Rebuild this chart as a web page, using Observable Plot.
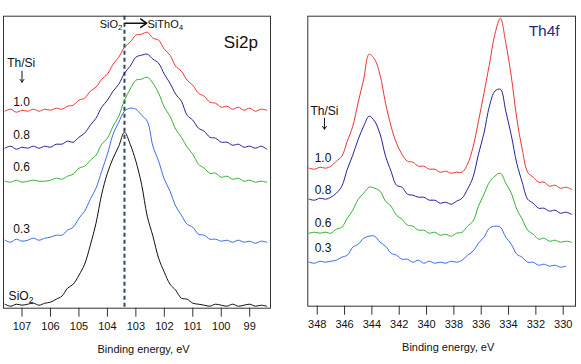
<!DOCTYPE html>
<html><head><meta charset="utf-8">
<script src="https://cdn.jsdelivr.net/npm/d3@7"></script>
<script src="https://cdn.jsdelivr.net/npm/@observablehq/plot@0.6"></script>
<style>
html,body{margin:0;padding:0;background:#fff;}
#wrap{position:relative;width:581px;height:364px;overflow:hidden;}
#left{position:absolute;left:0;top:0;}
#right{position:absolute;left:290px;top:0;}
svg{display:block;}
</style></head><body><div id="wrap"><div id="left"></div><div id="right"></div></div>
<script>
// ---------- Si2p panel data ----------
const siEnergy = [107.6,107.4,107.2,107.0,106.8,106.6,106.4,106.2,106.0,105.8,105.6,105.4,105.2,105.0,104.8,104.6,104.4,104.2,104.0,103.8,103.6,103.4,103.2,103.0,102.8,102.6,102.4,102.2,102.0,101.8,101.6,101.4,101.2,101.0,100.8,100.6,100.4,100.2,100.0,99.8,99.6,99.4,99.2,99.0,98.8,98.6,98.4];
const si10 = [197,199,196,198,197,199,197,199,198,200,199,202,203,208,210,217,221,229,234,244,251,261,266,273,274,276,270,268,259,253,242,237,228,223,215,212,206,205,201,202,199,201,198,200,197,199,198];
const si08 = [160,162,159,161,160,162,160,162,161,164,164,167,166,171,175,183,190,201,208,217,224,235,242,251,253,254,249,245,234,225,214,207,193,188,180,177,171,170,166,166,163,164,161,162,160,162,159];
const si06 = [127,126,128,126,127,128,127,127,128,130,129,132,134,140,142,148,153,164,170,182,192,208,219,228,229,231,225,215,201,192,179,171,161,154,144,140,135,135,131,132,129,130,127,128,126,127,126];
const si03 = [68,66,69,67,68,70,68,70,71,73,73,78,81,90,97,109,120,137,154,174,186,197,200,199,193,187,162,147,129,117,102,93,84,81,74,73,69,69,67,68,66,68,66,67,65,67,66];
const siSiO2 = [4,2,4,3,4,5,3,5,6,9,12,20,24,33,44,63,85,114,135,150,162,176,164,147,124,92,72,50,36,24,18,10,9,5,4,3,2,4,3,2,4,2,3,4,2,3,2];
const siTicks = [107,106,105,104,103,102,101,100,99];
const siRefLine = [103.4];

// ---------- Th4f panel data ----------
const thEnergy = [348.6,348.2,347.8,347.4,347.0,346.6,346.2,345.8,345.4,345.0,344.6,344.2,343.8,343.4,343.0,342.6,342.2,341.8,341.4,341.0,340.6,340.2,339.8,339.4,339.0,338.6,338.2,337.8,337.4,337.0,336.6,336.2,335.8,335.4,335.0,334.6,334.2,333.8,333.4,333.0,332.6,332.2,331.8,331.4,331.0,330.6,330.2,329.8,329.4];
const th10 = [138,137,139,138,140,145,150,165,180,204,227,252,247,231,203,180,163,152,145,144,140,140,137,137,134,135,133,134,134,142,159,185,213,242,272,288,263,230,188,157,134,129,124,124,120,121,118,119,117];
const th08 = [107,106,108,107,109,113,120,137,151,167,180,190,185,172,150,135,121,119,112,111,109,109,106,106,103,104,102,105,108,117,129,152,173,200,215,217,195,171,143,124,107,103,98,98,95,96,93,94,92];
const th06 = [73,74,73,74,73,77,79,88,96,107,113,119,118,115,105,100,91,87,81,80,76,76,73,74,71,72,70,73,74,80,85,100,112,124,130,133,123,113,97,87,76,72,67,68,65,66,64,65,64];
const th03 = [44,43,45,44,45,46,49,51,59,62,68,70,70,64,60,53,51,47,47,44,46,43,45,43,44,43,45,44,46,51,55,63,69,78,80,79,69,62,52,49,44,44,41,42,40,41,39,40];
const thTicks = [348,346,344,342,340,338,336,334,332,330];

const ratioLabels = ["1.0","0.8","0.6","0.3"];
const colors = {"1.0":"#f03434","0.8":"#22229e","0.6":"#33b233","0.3":"#3b6af0","SiO2":"#111111"};

function rows(energy, values, s){ return values.map((v,i)=>({e: energy[i], v, s})); }

const siData = [
  ...rows(siEnergy, si10, "1.0"), ...rows(siEnergy, si08, "0.8"),
  ...rows(siEnergy, si06, "0.6"), ...rows(siEnergy, si03, "0.3"),
  ...rows(siEnergy, siSiO2, "SiO2")
];
const thData = [
  ...rows(thEnergy, th10, "1.0"), ...rows(thEnergy, th08, "0.8"),
  ...rows(thEnergy, th06, "0.6"), ...rows(thEnergy, th03, "0.3")
];

// annotation placement (data coordinates)
const siAnn = [
  {t:"Th/Si", e:107.52, v:245, size:12, anchor:"start"},
  {t:ratioLabels[0], e:107.31, v:206, size:12, anchor:"start"},
  {t:ratioLabels[1], e:107.31, v:173.5, size:12, anchor:"start"},
  {t:ratioLabels[2], e:107.31, v:141, size:12, anchor:"start"},
  {t:ratioLabels[3], e:107.31, v:79, size:12, anchor:"start"},
  {t:"SiO_2", e:107.47, v:12, size:12, anchor:"start"},
  {t:"Si2p", e:99.91, v:266, size:17, anchor:"start"},
  {t:"SiO_2", e:103.47, v:284, size:11, anchor:"end"},
  {t:"SiThO_4", e:102.59, v:284, size:11, anchor:"start"},
  {t:"Binding energy, eV", e:102.73, v:-41.5, size:11, anchor:"middle"}
];
const siArrows = [
  {x1:103.38, x2:102.62, y1:285, y2:285, w:1.6, h:8},
  {x1:107.0, x2:107.0, y1:237, y2:226, w:1, h:5}
];
const thAnn = [
  {t:"Th/Si", e:348.49, v:195, size:12, anchor:"start"},
  {t:ratioLabels[0], e:348.19, v:148.5, size:12, anchor:"start"},
  {t:ratioLabels[1], e:348.19, v:116.5, size:12, anchor:"start"},
  {t:ratioLabels[2], e:348.19, v:83.5, size:12, anchor:"start"},
  {t:ratioLabels[3], e:348.19, v:58.5, size:12, anchor:"start"},
  {t:"Binding energy, eV", e:338.42, v:-41.5, size:11, anchor:"middle"}
];
const thArrows = [
  {x1:347.47, x2:347.47, y1:188, y2:177, w:1, h:5}
];

const font = "'Liberation Sans', Arial, Helvetica, sans-serif";

function textMarks(ann){
  const groups = d3.groups(ann, d => d.size + "|" + d.anchor);
  return groups.map(([k, arr]) => Plot.text(arr, {x:"e", y:"v", text:"t", fontSize: arr[0].size, textAnchor: arr[0].anchor, fill:"#111"}));
}
function arrowMarks(arr){
  return arr.map(a => Plot.arrow([a], {x1:"x1", x2:"x2", y1:"y1", y2:"y2", stroke:"#111", strokeWidth:a.w, headLength:a.h, headAngle:70}));
}

const siPlot = Plot.plot({
  width: 290, height: 364,
  marginLeft: 3, marginRight: 20, marginTop: 15.7, marginBottom: 56.3,
  x: {domain: [107.65, 98.27]},
  y: {domain: [0, 292], axis: null},
  style: {fontFamily: font, background: "white", color: "#111", overflow: "visible"},
  marks: [
    Plot.ruleX(siRefLine, {stroke: "#34495e", strokeWidth: 2, strokeDasharray: "4,3"}),
    Plot.line(siData, {x:"e", y:"v", z:"s", stroke: d => colors[d.s], strokeWidth: 1, curve: "catmull-rom"}),
    Plot.axisX({ticks: siTicks, tickSize: 9, tickPadding: 5, label: null, stroke:"#333", fontSize: 11}),
    Plot.frame({stroke: "#333"}),
    ...arrowMarks(siArrows),
    ...textMarks(siAnn)
  ]
});

const thPlot = Plot.plot({
  width: 291, height: 364,
  marginLeft: 17.3, marginRight: 6, marginTop: 15.7, marginBottom: 58.3,
  x: {domain: [348.69, 329.1]},
  y: {domain: [0, 290], axis: null},
  style: {fontFamily: font, background: "white", color: "#111", overflow: "visible"},
  marks: [
    Plot.line(thData, {x:"e", y:"v", z:"s", stroke: d => colors[d.s], strokeWidth: 1, curve: "catmull-rom"}),
    Plot.axisX({ticks: thTicks, tickSize: 9, tickPadding: 5, label: null, stroke:"#333", fontSize: 11}),
    Plot.frame({stroke: "#333"}),
    ...arrowMarks(thArrows),
    ...textMarks(thAnn),
    Plot.text([{t:"Th4f", e:332.53, v:275}], {x:"e", y:"v", text:"t", fontSize:15.5, textAnchor:"start", fill:"#1c2a8c"})
  ]
});

function subscripts(svg){
  d3.select(svg).selectAll("text").each(function(){
    if (this.querySelector("tspan")) return;
    const t = this.textContent;
    if (!t.includes("_")) return;
    const parts = t.split(/_(\d)/);
    const sel = d3.select(this); sel.text(null);
    parts.forEach((p,i)=>{
      if (!p) return;
      const ts = sel.append("tspan").text(p);
      if (i % 2 === 1) ts.attr("font-size","0.72em").attr("dy","0.3em");
    });
  });
}
subscripts(siPlot);
subscripts(thPlot);

document.getElementById("left").appendChild(siPlot);
document.getElementById("right").appendChild(thPlot);
</script>
</body></html>
